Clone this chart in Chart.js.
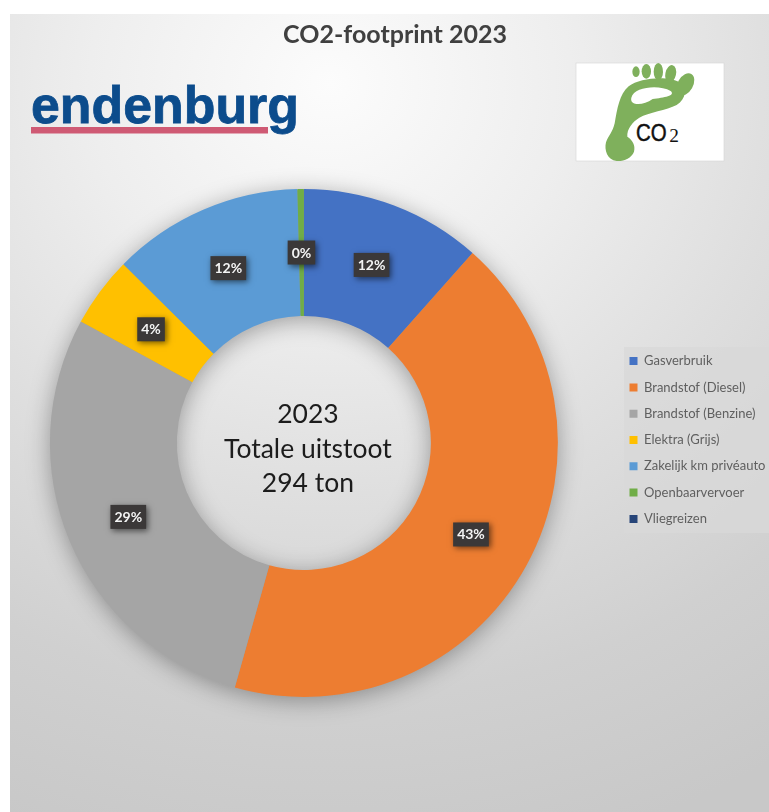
<!DOCTYPE html>
<html><head><meta charset="utf-8">
<script src="https://cdn.jsdelivr.net/npm/chart.js@4"></script>
<style>
html,body{margin:0;padding:0;background:#fff;width:769px;height:812px;overflow:hidden;position:relative}
#bg{position:absolute;left:10px;top:14px;width:759px;height:798px;background:radial-gradient(ellipse 860px 790px at 320px 70px,#fcfcfc 0%,#eeeeee 28%,#dfdfdf 52%,#d0d0d0 78%,#c8c8c8 100%)}
#legbg{position:absolute;left:624px;top:347px;width:145px;height:186px;background:rgba(216,216,216,.75)}
#logo,#foot{position:absolute}
#logo{left:20px;top:75px}
#foot{left:570px;top:55px}
canvas{position:absolute;left:-1px;top:0}
</style></head><body>
<div id="bg"></div><div id="legbg"></div>
<svg id="logo" width="290" height="70" viewBox="0 0 290 70">
<text x="11" y="48" font-family="Liberation Sans" font-weight="700" font-size="52" fill="#0c4c8c" stroke="#0c4c8c" stroke-width="0.8" textLength="268" lengthAdjust="spacingAndGlyphs">endenburg</text>
<rect x="11" y="52" width="237" height="6.5" fill="#cf5a74"/>
</svg>
<svg id="foot" width="160" height="115" viewBox="0 0 480 345">
<rect x="18" y="24" width="444" height="294" fill="#fff" stroke="#d8d8d8" stroke-width="2"/>
<path fill="#7fb05c" fill-rule="evenodd" d="M140 318C112 316 102 285 108 262C116 240 128 232 134 205C142 160 148 118 176 94C210 68 295 62 328 82C352 98 350 132 320 150C290 166 236 172 208 188C188 200 170 222 172 245C187 255 197 270 192 290C184 310 160 320 140 318ZM184 128C192 96 266 88 302 108C318 122 282 128 248 132C218 154 178 152 184 128Z"/>
<ellipse cx="198" cy="50" rx="11" ry="16" fill="#7fb05c"/>
<ellipse cx="229" cy="49" rx="14" ry="22" fill="#7fb05c"/>
<ellipse cx="265" cy="50" rx="14" ry="26" fill="#7fb05c"/>
<ellipse cx="302" cy="57" rx="16" ry="27" transform="rotate(12 302 57)" fill="#7fb05c"/>
<ellipse cx="346" cy="88" rx="23" ry="36" transform="rotate(30 346 88)" fill="#7fb05c"/>
<text x="198" y="258" font-family="Liberation Sans" font-size="72" fill="#111" stroke="#111" stroke-width="1.5" textLength="92" lengthAdjust="spacingAndGlyphs">CO</text>
<text x="298" y="260" font-family="Liberation Serif" font-size="58" fill="#111">2</text>
</svg>
<canvas id="c" width="769" height="812"></canvas>
<script>
const titleText = "CO2-footprint 2023";
const categories = ["Gasverbruik","Brandstof (Diesel)","Brandstof (Benzine)","Elektra (Grijs)","Zakelijk km privéauto","Openbaarvervoer","Vliegreizen"];
const values = [34,126,84,13.2,35.8,1.2,0];
const colors = ["#4472C4","#ED7D31","#A5A5A5","#FFC000","#5B9BD5","#70AD47","#264478"];
const centerLines = ["2023","Totale uitstoot","294 ton"];
const total = values.reduce((a,b)=>a+b,0);

const placeBoxes = {
  id:'placeBoxes',
  afterLayout(chart){
    const l=chart.legend, t=chart.titleBlock;
    const w=l.right-l.left;
    l.left=630.5-13.3; l.right=l.left+w;
    l.top-=3; l.bottom-=3;
    t.left=23; t.right=769;
  }
};
const ringShadow = {
  id:'ringShadow',
  beforeDatasetsDraw(chart){
    const a = chart.getDatasetMeta(0).data[0];
    const ctx = chart.ctx;
    ctx.save();
    ctx.shadowColor='rgba(0,0,0,.36)';ctx.shadowBlur=24;ctx.shadowOffsetY=4;
    ctx.fillStyle='#999';
    ctx.beginPath();
    ctx.arc(a.x,a.y,a.outerRadius-1,0,Math.PI*2);
    ctx.moveTo(a.x+a.innerRadius+1,a.y);
    ctx.arc(a.x,a.y,a.innerRadius+1,0,Math.PI*2,true);
    ctx.fill('evenodd');
    ctx.restore();
  }
};
const pctLabels = {
  id:'pctLabels',
  afterDatasetsDraw(chart){
    const ctx = chart.ctx, arcs = chart.getDatasetMeta(0).data;
    ctx.save();
    ctx.font='bold 14px Lato';ctx.textAlign='center';ctx.textBaseline='middle';
    arcs.forEach((a,i)=>{
      if(!values[i]) return;
      const p=a.tooltipPosition();
      const txt=Math.round(values[i]/total*100)+'%';
      const w=ctx.measureText(txt).width+8,h=24;
      ctx.save();
      ctx.shadowColor='rgba(0,0,0,.55)';ctx.shadowBlur=6;ctx.shadowOffsetX=2;ctx.shadowOffsetY=2;
      ctx.fillStyle='#3b3838';
      ctx.fillRect(p.x-w/2,p.y-h/2,w,h);
      ctx.restore();
      ctx.fillStyle='#f4f4f4';
      ctx.fillText(txt,p.x,p.y+0.5);
    });
    const a=arcs[0];
    ctx.font='26.5px Lato';ctx.fillStyle='#1c1c1c';
    centerLines.forEach((t,i)=>ctx.fillText(t,a.x+4,a.y-28.5+i*34.5));
    ctx.restore();
  }
};
new Chart(document.getElementById('c'),{
  type:'doughnut',
  data:{labels:categories,datasets:[{data:values,backgroundColor:colors,borderWidth:0,hoverOffset:0}]},
  plugins:[placeBoxes,ringShadow,pctLabels],
  options:{
    responsive:false,animation:false,cutout:'50%',
    layout:{padding:{left:0,right:0,top:0,bottom:115}},
    plugins:{
      tooltip:{enabled:false},
      title:{display:true,text:titleText,color:'#404040',font:{family:'Lato',size:25,weight:'bold'},padding:{top:20,bottom:139}},
      legend:{position:'right',align:'center',fullSize:false,labels:{boxWidth:8,boxHeight:8,padding:13.3,color:'#5f5f5f',font:{family:'Lato',size:13}}}
    }
  }
});
</script>
</body></html>
